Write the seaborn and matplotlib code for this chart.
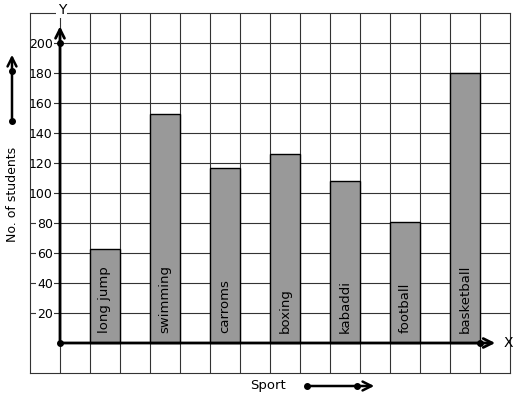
# Bar graph of students by sport, drawn on graph paper
import numpy as np
import matplotlib
matplotlib.use("Agg")
import matplotlib.pyplot as plt
import seaborn as sns

sports = ["long jump", "swimming", "carroms", "boxing", "kabaddi", "football", "basketball"]
students = [63, 153, 117, 126, 108, 81, 180]
y_ticks = [20, 40, 60, 80, 100, 120, 140, 160, 180, 200]

sns.set_theme(style="white")
plt.rcParams["font.family"] = ["DejaVu Sans"]
plt.rcParams["text.color"] = "black"
plt.rcParams["ytick.color"] = "black"

fig = plt.figure(figsize=(5.17, 3.99), dpi=100)
ax = fig.add_axes([30 / 517, 26 / 399, 480 / 517, 360 / 399])

sns.barplot(x=sports, y=students, order=sports, color="#999999", saturation=1,
            edgecolor="black", linewidth=1, width=0.5, errorbar=None, ax=ax)

ax.set_xlim(-1.25, 6.75)
ax.set_ylim(-20, 220)
ax.set_axisbelow(True)

# graph paper grid
grid_kw = dict(color="#333333", linewidth=0.8)
ax.set_xticks(np.arange(-0.75, 6.5, 0.5), minor=True)
ax.xaxis.grid(False, which="major")
ax.xaxis.grid(True, which="minor", **grid_kw)
ax.set_yticks(y_ticks)
ax.yaxis.grid(True, which="major", **grid_kw)
ax.tick_params(axis="x", which="both", length=0, labelbottom=False)
ax.tick_params(axis="y", length=0, pad=-16.5, labelsize=9, labelcolor="black")
ax.set_yticklabels([str(v) for v in y_ticks])
for t in ax.get_yticklabels():
    t.set_bbox(dict(facecolor="white", edgecolor="none", pad=0.5))
for s in ax.spines.values():
    s.set_color("#333333")
    s.set_linewidth(0.8)
ax.set_xlabel("")
ax.set_ylabel("")

# axes with arrows
arrow_kw = dict(arrowstyle="->", lw=2, color="black", mutation_scale=16)
ax.annotate("", xy=(-0.75, 213), xytext=(-0.75, 0), arrowprops=arrow_kw,
            annotation_clip=False, zorder=4)
ax.annotate("", xy=(6.55, 0), xytext=(-0.75, 0), arrowprops=arrow_kw,
            annotation_clip=False, zorder=4)
ax.plot([-0.75, -0.75, 6.25], [0, 200, 0], "o", color="black", ms=4, zorder=5)
ax.text(-0.72, 222, "Y", ha="center", va="center", fontsize=10, clip_on=False,
        bbox=dict(facecolor="white", edgecolor="none", pad=1))
ax.text(6.72, 0, "X", ha="center", va="center", fontsize=10, clip_on=False)

# labels inside bars
for i, name in enumerate(sports):
    ax.text(i, 6.7, name, rotation=90, ha="center", va="bottom", fontsize=9.5,
            color="black")

# outside axis titles with arrows
fig.text(12.5 / 517, 1 - 194 / 399, "No. of students", rotation=90,
         ha="center", va="center", fontsize=9)
fig.text(268 / 517, 1 - 385 / 399, "Sport", ha="center", va="center", fontsize=9.5)
fig_arrow = dict(arrowstyle="->", lw=1.8, color="black", mutation_scale=16)
ax.annotate("", xy=(12 / 517, 1 - 52 / 399), xytext=(12 / 517, 1 - 121 / 399),
            xycoords="figure fraction", textcoords="figure fraction",
            arrowprops=fig_arrow, annotation_clip=False)
ax.annotate("", xy=(377 / 517, 1 - 386 / 399), xytext=(307 / 517, 1 - 386 / 399),
            xycoords="figure fraction", textcoords="figure fraction",
            arrowprops=fig_arrow, annotation_clip=False)
fig.add_artist(plt.Line2D([12 / 517, 12 / 517], [1 - 121 / 399, 1 - 71 / 399],
                          transform=fig.transFigure, marker="o", ms=4,
                          color="black", linestyle="none"))
fig.add_artist(plt.Line2D([307 / 517, 357 / 517], [1 - 386 / 399, 1 - 386 / 399],
                          transform=fig.transFigure, marker="o", ms=4,
                          color="black", linestyle="none"))

fig.savefig("out.png", dpi=100)
